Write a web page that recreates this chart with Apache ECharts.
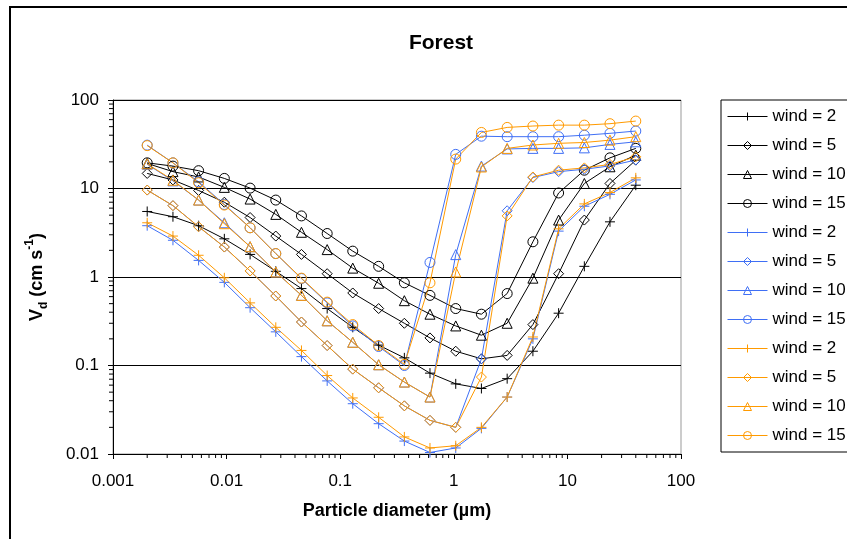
<!DOCTYPE html>
<html>
<head>
<meta charset="utf-8">
<script src="https://cdn.jsdelivr.net/npm/echarts@6/dist/echarts.min.js"></script>
<style>html,body{margin:0;padding:0;background:#fff;}#c{width:847px;height:539px;}</style>
</head>
<body>
<div id="c"></div>
<script>
// Particle diameter (µm)
var diameters = [0.002, 0.00337, 0.00567, 0.00955, 0.0161, 0.0271, 0.0456, 0.0768, 0.129, 0.218, 0.367, 0.617, 1.04, 1.75, 2.95, 4.97, 8.37, 14.1, 23.7, 40];
// black group
var k2  = [5.5, 4.8, 3.8, 2.7, 1.8, 1.16, 0.74, 0.44, 0.27, 0.17, 0.122, 0.082, 0.062, 0.055, 0.071, 0.145, 0.39, 1.32, 4.2, 10.9];
var k5  = [14.8, 12.5, 9.5, 7.0, 4.7, 2.9, 1.8, 1.09, 0.66, 0.44, 0.30, 0.205, 0.145, 0.119, 0.13, 0.29, 1.09, 4.4, 11.4, 20.9];
var k10 = [19.2, 15.5, 13.5, 10.3, 7.6, 5.1, 3.2, 2.04, 1.26, 0.85, 0.54, 0.38, 0.28, 0.22, 0.30, 0.97, 4.4, 11.4, 17.6, 23.8];
var k15 = [19.5, 17.9, 15.9, 13.0, 10.1, 7.4, 4.9, 3.1, 1.96, 1.32, 0.86, 0.62, 0.44, 0.38, 0.65, 2.5, 8.9, 16.1, 22.2, 28.4];
// blue group
var b2  = [3.8, 2.6, 1.54, 0.87, 0.45, 0.24, 0.126, 0.067, 0.037, 0.022, 0.014, 0.0104, 0.0117, 0.0195, 0.044, 0.2, 3.3, 6.3, 8.6, 12.5];
var b5  = [9.6, 6.4, 3.7, 2.18, 1.17, 0.61, 0.31, 0.168, 0.091, 0.056, 0.035, 0.024, 0.02, 0.119, 5.6, 13.3, 15.5, 16.5, 18.0, 21.0];
var b10 = [18.8, 12.2, 7.4, 4.1, 2.2, 1.14, 0.62, 0.32, 0.183, 0.102, 0.065, 0.044, 1.79, 17.9, 28.0, 28.4, 28.4, 28.8, 31.5, 33.7];
var b15 = [30.9, 19.5, 11.9, 6.6, 3.6, 1.84, 0.96, 0.51, 0.28, 0.164, 0.1, 1.46, 24.3, 39.0, 38.5, 38.5, 38.5, 40.0, 42.0, 44.6];
// orange group
var o2  = [4.1, 2.9, 1.76, 0.98, 0.51, 0.27, 0.148, 0.077, 0.043, 0.026, 0.0156, 0.0117, 0.0124, 0.02, 0.044, 0.21, 3.5, 6.7, 9.0, 13.2];
var o5  = [9.6, 6.4, 3.7, 2.18, 1.17, 0.61, 0.31, 0.168, 0.091, 0.056, 0.035, 0.024, 0.02, 0.074, 4.9, 13.5, 16.1, 17.1, 18.7, 22.8];
var o10 = [19.0, 12.4, 7.4, 4.0, 2.2, 1.14, 0.62, 0.32, 0.183, 0.102, 0.065, 0.044, 1.14, 17.5, 28.4, 31.0, 32.4, 33.1, 35.2, 38.5];
var o15 = [30.5, 19.5, 11.6, 6.5, 3.6, 1.84, 0.97, 0.52, 0.29, 0.168, 0.103, 0.86, 21.5, 43.0, 49.0, 50.8, 52.0, 52.0, 54.0, 57.8];

var xTickLabels = ['0.001', '0.01', '0.1', '1', '10', '100'];
var yTickLabels = ['0.01', '0.1', '1', '10', '100'];
var seriesNames = ['wind = 2', 'wind = 5', 'wind = 10', 'wind = 15'];

var BLACK = '#000000', BLUE = '#3F6FF5', ORANGE = '#FF9A00';
var PLUS = 'path://M5,0 L5,10 M0,5 L10,5';
var symbols = [PLUS, 'diamond', 'triangle', 'circle'];
var sizes = [10, 10, 10, 10];
var groups = [
  {color: BLACK, data: [k2, k5, k10, k15], suffix: ''},
  {color: BLUE, data: [b2, b5, b10, b15], suffix: ' '},
  {color: ORANGE, data: [o2, o5, o10, o15], suffix: '  '}
];

var FONT = 'Liberation Sans, Arial, sans-serif';
var series = [];
var legendData = [];
groups.forEach(function (g) {
  g.data.forEach(function (vals, j) {
    var name = seriesNames[j] + g.suffix;
    legendData.push({
      name: name,
      itemStyle: {color: 'rgba(255,255,255,0)', borderColor: g.color, borderWidth: 1},
      lineStyle: {color: g.color, width: 1}
    });
    series.push({
      name: name,
      type: 'line',
      data: diameters.map(function (d, i) { return [d, vals[i]]; }),
      symbol: symbols[j],
      symbolSize: sizes[j],
      showAllSymbol: true,
      lineStyle: {color: g.color, width: 1},
      itemStyle: {color: 'rgba(255,255,255,0)', borderColor: g.color, borderWidth: 1},
      emphasis: {disabled: true},
      animation: false,
      z: 3
    });
  });
});

// minor tick positions for log axes
function minorVals(lo, hi) {
  var out = [];
  for (var e = lo; e < hi; e++) {
    for (var m = 2; m <= 9; m++) out.push(+(m * Math.pow(10, e)).toPrecision(3));
  }
  return out;
}
var xMinor = minorVals(-3, 2);
var yMinor = minorVals(-2, 2);

series.push({
  type: 'custom', name: 'xminor', silent: true, animation: false, clip: false,
  data: xMinor.map(function (v) { return [v, 0.01]; }),
  renderItem: function (params, api) {
    var p = api.coord([api.value(0), api.value(1)]);
    return {type: 'line', shape: {x1: p[0], y1: p[1], x2: p[0], y2: p[1] + 4}, style: {stroke: '#000', lineWidth: 1}};
  }
});
series.push({
  type: 'custom', name: 'yminor', silent: true, animation: false, clip: false,
  data: yMinor.map(function (v) { return [0.001, v]; }),
  renderItem: function (params, api) {
    var p = api.coord([api.value(0), api.value(1)]);
    return {type: 'line', shape: {x1: p[0], y1: p[1], x2: p[0] - 4, y2: p[1]}, style: {stroke: '#000', lineWidth: 1}};
  }
});

var chart = echarts.init(document.getElementById('c'), null, {renderer: 'canvas'});
chart.setOption({
  backgroundColor: '#fff',
  animation: false,
  textStyle: {fontFamily: FONT},
  title: {
    text: 'Forest', left: 436, top: 28, textAlign: 'center',
    textStyle: {fontSize: 21, fontWeight: 'bold', color: '#000', fontFamily: FONT}
  },
  graphic: [{
    type: 'rect', silent: true, z: -1,
    shape: {x: 10, y: 7, width: 1000, height: 1000},
    style: {fill: 'none', stroke: '#000', lineWidth: 2}
  }],
  grid: {left: 113, top: 100, width: 568, height: 354, show: true, borderColor: '#999', borderWidth: 1, backgroundColor: '#fff'},
  legend: {
    orient: 'vertical', left: 721, top: 100,
    padding: [8, 100, 8, 6], itemGap: 12, itemWidth: 40, itemHeight: 10,
    borderColor: '#000', borderWidth: 1, backgroundColor: '#fff',
    data: legendData,
    formatter: function (n) { return n.trim(); },
    textStyle: {fontSize: 17, lineHeight: 17, color: '#000', fontFamily: FONT},
    selectedMode: false
  },
  xAxis: {
    type: 'log', logBase: 10, min: 0.001, max: 100,
    name: 'Particle diameter (µm)', nameLocation: 'middle', nameGap: 48,
    nameTextStyle: {fontSize: 18, fontWeight: 'bold', color: '#000', fontFamily: FONT},
    axisLine: {show: true, onZero: false, lineStyle: {color: '#000', width: 1}},
    axisTick: {show: true, inside: false, length: 5, lineStyle: {color: '#000'}},
    axisLabel: {fontSize: 17, color: '#000', margin: 19, fontFamily: FONT,
      formatter: function (v) { var i = Math.round(Math.log10(v)) + 3; return xTickLabels[i] !== undefined ? xTickLabels[i] : ''; }},
    splitLine: {show: false}
  },
  yAxis: {
    type: 'log', logBase: 10, min: 0.01, max: 100,
    name: '{b|V}{sub|d}{b| (cm s}{sup|-1}{b|)}', nameLocation: 'middle', nameGap: 63, nameRotate: 90,
    nameTextStyle: {
      color: '#000', fontFamily: FONT,
      rich: {
        b: {fontSize: 18, fontWeight: 'bold', lineHeight: 26, fontFamily: FONT},
        sub: {fontSize: 12, fontWeight: 'bold', lineHeight: 26, verticalAlign: 'bottom', fontFamily: FONT},
        sup: {fontSize: 12, fontWeight: 'bold', lineHeight: 26, verticalAlign: 'top', fontFamily: FONT}
      }
    },
    axisLine: {show: true, onZero: false, lineStyle: {color: '#000', width: 1}},
    axisTick: {show: true, inside: false, length: 5, lineStyle: {color: '#000'}},
    axisLabel: {fontSize: 17, color: '#000', margin: 14, fontFamily: FONT,
      formatter: function (v) { var i = Math.round(Math.log10(v)) + 2; return yTickLabels[i] !== undefined ? yTickLabels[i] : ''; }},
    splitLine: {show: true, lineStyle: {color: '#000', width: 1}}
  },
  series: series
});
</script>
</body>
</html>
